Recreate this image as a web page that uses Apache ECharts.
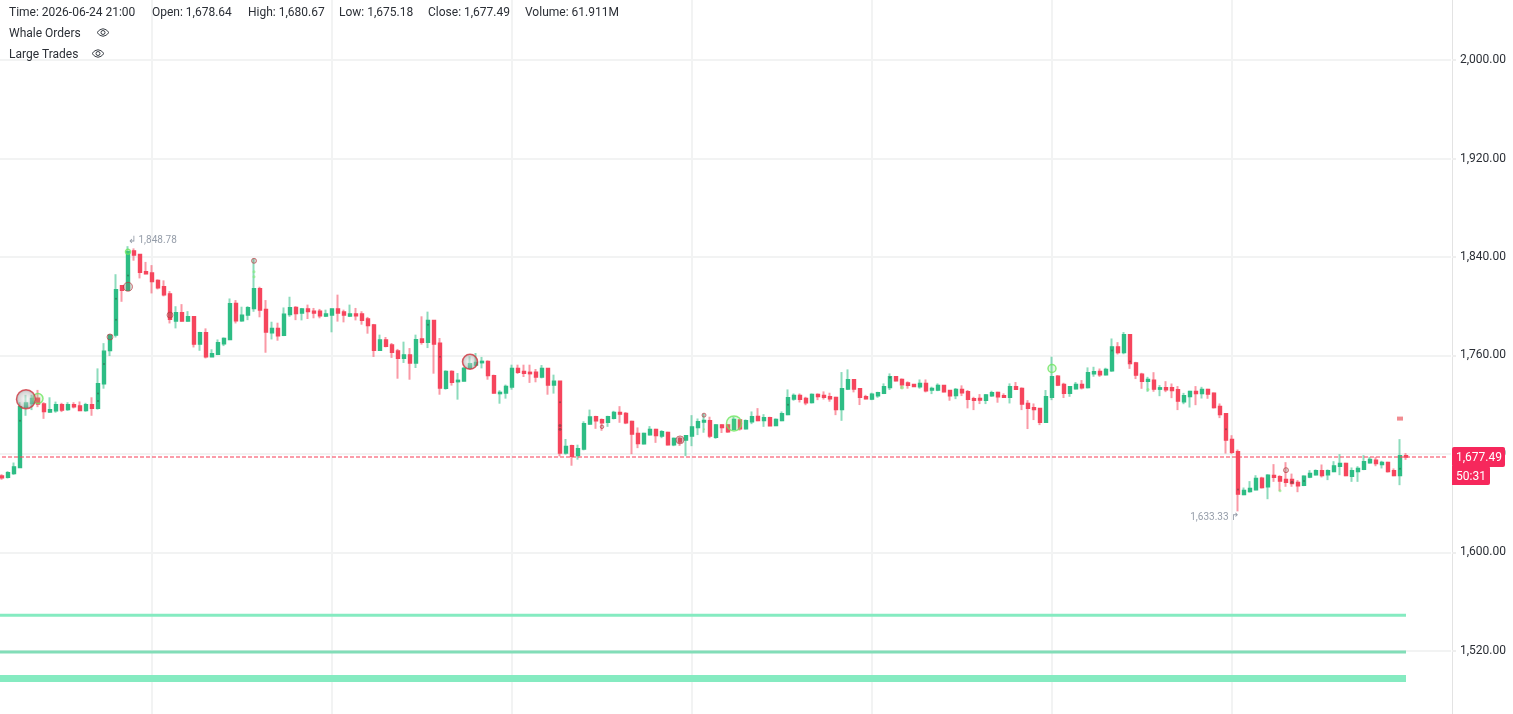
<!DOCTYPE html>
<html><head><meta charset="utf-8">
<style>html,body{margin:0;padding:0;background:#fff;overflow:hidden}#c{width:1513px;height:714px}</style>
<script src="https://cdn.jsdelivr.net/npm/echarts@6/dist/echarts.min.js"></script>
</head><body><div id="c"></div>
<script>
const opens=[1662,1660.9,1664,1669,1717.8,1721,1725.3,1720.5,1714,1715,
1720,1716,1720,1719,1715.3,1720,1717,1737,1764,1776.5,
1816.6,1813,1845,1842,1828,1827,1821,1815.8,1810,1788,
1794.7,1788,1791.4,1769.2,1778.4,1759,1761,1769.5,1773,1802.3,
1788.2,1792.8,1798.2,1814.2,1797.4,1778.4,1782,1776.3,1793.3,1799,
1794.5,1797.8,1796,1795.9,1792,1792.9,1797.8,1795.3,1792,1793.7,
1793.7,1789.6,1784.8,1764.2,1772.6,1768.5,1763.6,1757.7,1760.4,1753.9,
1773.4,1770.7,1788.5,1769.9,1733.3,1747.1,1738.7,1739.2,1749.5,1752.2,
1754.1,1755.2,1743.6,1729,1729.5,1734.4,1749.5,1747.1,1746.3,1746.3,
1742.5,1749.5,1736,1739,1680.7,1686.7,1678.6,1684,1704.3,1710.2,
1707.7,1705.6,1709,1713.7,1712.9,1706.4,1696.6,1688.2,1695.5,1699.9,
1694.5,1697.4,1687.4,1692.6,1691.2,1694.5,1701.5,1705.8,1706.9,1693.5,
1703.6,1703.6,1699.9,1707.5,1700.4,1706.1,1710.4,1707.2,1709.4,1703.1,
1707.2,1712,1724.5,1727.5,1725,1721.8,1728.3,1727.5,1726.4,1725.9,
1716.1,1732.7,1740.3,1733,1726.4,1724.5,1727.3,1729.2,1734,1742.7,
1740.5,1737.6,1736.5,1734.6,1737.3,1731.9,1731.9,1735.7,1731.6,1727.5,
1732.4,1730.5,1724.8,1725.1,1723.5,1727.3,1730,1727.3,1725.9,1734.6,
1733.2,1721,1717.5,1717,1705.6,1725.9,1743.2,1736.5,1729.2,1733,
1736.5,1734,1745.1,1747,1744.3,1747.6,1767,1762.4,1776.8,1754,
1744.8,1738.9,1739.9,1732.6,1733.7,1733.7,1732.1,1722.3,1726.7,1730.7,
1729.1,1732.4,1729.4,1718.5,1712.6,1691.7,1681.7,1647,1649.4,1650.8,
1660.3,1653.3,1662.5,1661.4,1659.2,1659.2,1656.8,1654.4,1661.1,1663,
1666.3,1663,1665.7,1670,1672.2,1661.9,1665.7,1667.4,1672.8,1674.9,
1671.4,1673,1666.3,1662.5,1678.64];
const closes=[1660.5,1664.7,1669.5,1718.3,1721.5,1725,1720.5,1714.5,1716,1720,
1715.6,1720,1718.3,1715.3,1720,1717,1737,1763.5,1776.5,1813.4,
1813,1844.3,1841.6,1827.5,1826.4,1820,1815,1809.3,1789.3,1794.7,
1788,1791.4,1769.2,1778.4,1759,1761.4,1770.3,1773.8,1802,1788.2,
1792.8,1798.8,1814.2,1796.9,1779,1782,1776,1793.6,1798.8,1794,
1797.8,1795.6,1794.5,1792.3,1793.7,1797.8,1794.5,1792.9,1793.7,1792.3,
1788.5,1784.2,1764.2,1772.6,1767.4,1762.5,1757.7,1760.4,1753.9,1772.8,
1770.7,1788.5,1769.3,1733.6,1747.1,1738.2,1739.8,1749.5,1753.3,1754.4,
1755.2,1743.6,1729.5,1730,1734.9,1749.5,1746.3,1745.5,1745.2,1742.5,
1749.5,1736,1739,1680.7,1686.1,1678,1684.3,1704.6,1710,1706.9,
1705.3,1710.2,1713.7,1712.3,1705.3,1696.1,1688.5,1696.6,1699.9,1695,
1698,1687.4,1692.6,1689.6,1694.7,1702,1706.1,1707.2,1694.5,1703.6,
1701.5,1698,1708,1700.4,1706.9,1710.2,1707.2,1709.4,1702.9,1708,
1712.6,1725.6,1727.5,1724.3,1721.5,1728.3,1726.7,1725.9,1724.8,1716.1,
1732.9,1740.3,1732.7,1725.9,1724.8,1728.6,1729.7,1734.6,1742.7,1739.4,
1736.2,1735.7,1734.8,1737.3,1731.3,1733.2,1735.7,1730.5,1727.3,1732.4,
1729.7,1724.3,1723.5,1723.7,1728,1729.7,1726.4,1725.9,1734.6,1732.4,
1720.5,1717,1716.1,1705.6,1726.4,1742.7,1735.9,1729.2,1734.6,1736.5,
1733.8,1746,1746.8,1744.3,1748.7,1767,1762.4,1776.8,1753.5,1744,
1738.9,1740.5,1732.6,1733.7,1732.1,1731.5,1722.9,1727.2,1730.7,1729.1,
1732.4,1728.6,1717.7,1712,1691.2,1681.4,1647.3,1650.3,1651.9,1660,
1652.7,1662.7,1660.9,1657.9,1657,1656,1654.1,1661.9,1664.1,1666.3,
1662.5,1666.3,1670.3,1672.2,1662.5,1666.3,1668.2,1673.6,1675.5,1672.2,
1673,1665.7,1662.5,1678.5,1677.49];
const highs=[1663.5,1666,1673,1722,1728,1728,1732,1722,1726,1722.5,
1721.5,1722,1722,1722.6,1721.5,1726,1749.5,1770,1777.5,1826,
1817,1848.78,1847,1842,1836,1833.4,1821.8,1821,1812.3,1800,
1801.7,1796,1792,1779.2,1782,1765,1773,1774.6,1806.3,1805,
1799.6,1800,1838.8,1815.8,1805,1787.4,1786.6,1799,1807.7,1800,
1798.6,1801.3,1798.6,1797.8,1797.2,1798,1809.4,1797.2,1801.3,1798.6,
1795.9,1791.3,1785.6,1776.9,1775,1770.1,1765.3,1771.2,1766,1776.9,
1791.8,1795.6,1788.5,1774.2,1747.9,1747.9,1745.7,1750.6,1759.3,1762,
1758.8,1756,1744.4,1731.7,1736.3,1752.5,1752.5,1752.5,1752.5,1749,
1752.2,1749.8,1744.4,1739,1692.1,1687.5,1687.5,1706.5,1716,1711,
1708.8,1711,1715,1718.8,1714,1707,1701.5,1697.2,1702.6,1700.4,
1699.3,1698,1693.3,1694,1695.3,1711.5,1708.8,1712.9,1710.2,1704.2,
1704,1704.2,1710.2,1708,1708,1714.5,1717.2,1712.3,1710.2,1708.8,
1714.5,1732.4,1729.1,1729.1,1726.4,1729.1,1729.1,1730.8,1729.7,1726.4,
1746.5,1748.7,1740.5,1733,1728,1729.7,1730.5,1737.3,1745.4,1743.2,
1741.3,1738.9,1736.7,1740.5,1740.5,1734.6,1737.3,1736,1731.9,1733.5,
1735.7,1731.9,1726.4,1728.6,1728.6,1731.3,1730.5,1729.2,1737.3,1738.4,
1734,1723.7,1721,1717.2,1731.9,1759,1744,1737.8,1735.1,1738.4,
1740,1750.3,1750.8,1749.4,1750,1773.8,1770.8,1779,1777.3,1754.8,
1745.9,1742.6,1746.4,1735.9,1739.1,1737.2,1735.1,1729.6,1731.3,1735.1,
1734.5,1732.9,1729.9,1721,1712.9,1695.2,1683.6,1652.7,1657.9,1662.7,
1661.4,1663.5,1671.7,1662.7,1673.3,1664,1658.7,1662.5,1666.8,1667.4,
1671.4,1667.4,1674.1,1679.8,1672.8,1669,1670,1679,1677.6,1677.6,
1674.4,1673.6,1668.2,1692,1680.67];
const lows=[1659,1660,1663,1669,1711,1715.6,1718,1708.5,1713.5,1713.5,
1714,1715,1717,1714.8,1714.3,1711,1716,1733,1759.5,1774.6,
1803.6,1812.6,1837,1822.6,1826,1810.4,1813.7,1808,1786,1782,
1787.4,1787.4,1766.5,1763.8,1757.6,1758.7,1760.3,1767.6,1772.5,1786,
1787.4,1788.7,1795.5,1791,1762.2,1773,1772,1775.7,1791.4,1788.7,
1788.5,1789.6,1790.2,1790.2,1791.2,1778.8,1787.5,1786.9,1791.2,1788.5,
1785,1777.7,1758.8,1763.9,1766.6,1758,1741.1,1753.9,1740.3,1749.8,
1768.8,1766,1745.2,1728.1,1732.2,1735.5,1724.1,1739,1749,1751,
1749.5,1740.3,1729,1720.8,1724.9,1732.2,1745,1742.5,1737.7,1738.2,
1741.4,1728.1,1729,1678,1679.4,1670.4,1675.3,1682.9,1703.7,1700.4,
1698.8,1702,1708,1705.3,1704.2,1679.8,1684.7,1687.7,1695,1689,
1692.8,1686.9,1686.3,1686.5,1678.2,1686.3,1695.3,1697.2,1692.8,1692.3,
1697,1697.2,1699.3,1699,1699.9,1704.2,1706.6,1702,1702.6,1702.6,
1706.6,1711.5,1723.2,1721.8,1719.6,1721,1723.7,1724.2,1722.4,1711.5,
1706.9,1731.9,1730,1719.7,1724.3,1723.7,1725.6,1728.6,1731.9,1738.9,
1733,1733,1734.6,1733,1730,1728.6,1731,1730,1723.2,1724.5,
1727,1717,1715.6,1720.5,1720.5,1726.4,1721.6,1725.4,1721,1731.9,
1715.6,1700.2,1707.5,1703.4,1705.3,1723.7,1735.1,1725.4,1726.4,1732.4,
1732.4,1733.2,1742.7,1742.6,1743.8,1746.7,1760.8,1761,1749.1,1740.8,
1732.9,1730.5,1730.5,1726.9,1730.2,1725.3,1715.6,1720.4,1717.7,1719.6,
1725,1724.8,1716.9,1709.1,1680.3,1679.8,1633.33,1646.5,1648.6,1650.5,
1651.9,1643.2,1657.3,1650,1653.3,1653.3,1648.9,1653.8,1660.3,1662.5,
1660.9,1658.7,1665.2,1662.7,1661.9,1657.3,1657.3,1666.8,1672.2,1670,
1668.2,1664.9,1661.9,1654.6,1675.18];

const grayBubbles=[[4,1724.5,19],[78,1754.9,15]];
const greenRings=[[6,1725,10],[122,1704.8,15],[175,1749.4,8],[21,1844.2,5]];
const redRings=[[21,1815.8,9],[18,1775,6],[28,1792.8,6],[42,1836.9,5],[113,1691.4,8],[117,1711.5,4],[100,1702,3.5],[214,1666.8,5]];
const greenDots=[[42,1828,3],[42,1824,3],[150,1734,4],[191,1732.3,3],[213,1650,3],[117,1700,2]];
const darkDots=[[3,1707,2],[16,1729,2],[16,1723,2],[17,1753,2],[19,1806,2],[19,1789,2],[21,1825,2],[71,1785,2],[73,1759,2],[93,1722,2],[93,1703,3],[93,1700,3],[131,1720,2],[148,1742,2],[185,1764,2],[188,1755,2],[204,1700,2],[206,1651,2],[215,1657,3],[217,1658,2],[233,1668,2]];
const sellTags=[[233,1708.7]];
const wallLevels=[1549,1519,1497.6];
const wallWidths=[3,3,7];
const wallColors=['#85EBC1','#82DDB8','#85EBC1'];
const lastPrice=1677.49, countdown='50:31';
const tickStep=80, axisMin=1440, axisMax=2080;
const highMark=[21,1848.78], lowMark=[206,1633.33];
const markCount=opens.length;
const categories=Array.from({length:243},(_,i)=>String(i));
const header=[['Time: 2026-06-24 21:00',9],['Open: 1,678.64',152],['High: 1,680.67',248],['Low: 1,675.18',339],['Close: 1,677.49',428],['Volume: 61.911M',525]];

const UP='#2EBD85',DOWN='#F6465D',FONT='Roboto, "Noto Sans", sans-serif';
const fmt=v=>v.toLocaleString('en-US',{minimumFractionDigits:2,maximumFractionDigits:2});
const chart=echarts.init(document.getElementById('c'),null,{renderer:'canvas'});
const at=a=>a.map(p=>[p[0]+1,p[1],p[2]]);
const markerSeries=(data,style,z)=>({type:'scatter',data:at(data),symbolSize:v=>v[2],itemStyle:style,z:z||6,silent:true,clip:true});
const gray=new echarts.graphic.RadialGradient(0.5,0.5,0.5,[{offset:0,color:'rgba(245,245,245,.55)'},{offset:.7,color:'rgba(170,170,170,.6)'},{offset:1,color:'rgba(110,110,110,.7)'}]);
chart.setOption({
 animation:false,
 backgroundColor:'#fff',
 grid:{left:-7,width:1458,top:-38.4,height:787.7,containLabel:false,outerBoundsMode:'none'},
 xAxis:{type:'category',data:categories,boundaryGap:true,
   axisLine:{show:false},axisTick:{show:false},axisLabel:{show:false},
   splitLine:{show:true,alignWithLabel:true,interval:i=>i%30===26&&i<markCount,lineStyle:{color:'#F2F3F3',width:2}}},
 yAxis:{type:'value',position:'right',offset:1,min:axisMin,max:axisMax,interval:tickStep,scale:true,
   axisLine:{show:true,lineStyle:{color:'#E3E3E3',width:1}},
   axisTick:{show:true,length:4,lineStyle:{color:'#EEEEEE',width:2}},
   axisLabel:{margin:8,padding:[3,0,0,0],color:'#2B2F36',fontFamily:FONT,fontSize:12,formatter:fmt},
   splitLine:{show:true,lineStyle:{color:'#F2F3F3',width:2}}},
 series:[
  {type:'candlestick',barWidth:1,z:3,silent:true,encode:{x:0,y:[1,2,3,4]},
   itemStyle:{color:'transparent',color0:'transparent',borderColor:'rgba(46,189,133,.55)',borderColor0:'rgba(246,70,93,.55)',borderWidth:2},
   data:opens.map((o,i)=>[i+1,o,closes[i],lows[i],highs[i]])},
  {type:'candlestick',barWidth:4,z:4,silent:true,encode:{x:0,y:[1,2,3,4]},
   itemStyle:{color:UP,color0:DOWN,borderColor:UP,borderColor0:DOWN,borderWidth:1.4},
   data:opens.map((o,i)=>[i+1,o,closes[i],Math.min(o,closes[i]),Math.max(o,closes[i])])},
  ...wallLevels.map((v,i)=>({type:'line',data:[[0,v],[markCount,v]],showSymbol:false,silent:true,z:2,
    lineStyle:{color:wallColors[i],width:wallWidths[i]}})),
  {type:'line',data:[[0,lastPrice],[242,lastPrice]],showSymbol:false,silent:true,z:5,
    lineStyle:{color:'rgba(246,70,93,.7)',width:1.5,type:[4,2]}},
  markerSeries(darkDots,{color:'rgba(50,60,50,.55)'},6),
  markerSeries(greenDots,{color:'rgba(130,235,120,.8)'},6),
  markerSeries(redRings,{color:'rgba(120,110,100,.35)',borderColor:'rgba(190,50,60,.8)',borderWidth:1},7),
  markerSeries(greenRings,{color:'rgba(120,230,120,.25)',borderColor:'#6EE65F',borderWidth:1.5},7),
  markerSeries(grayBubbles,{color:gray,borderColor:'#D2353F',borderWidth:1.5},7),
  {type:'scatter',symbol:'rect',symbolSize:[6,4],silent:true,z:7,data:sellTags.map(p=>[p[0]+1,p[1]]),itemStyle:{color:'#EE6F76'}},
  {type:'scatter',symbolSize:1,silent:true,z:8,itemStyle:{color:'transparent'},data:[[highMark[0]+1,highMark[1]]],
   label:{show:true,position:'right',offset:[-5.5,-6],formatter:'↲ '+fmt(highMark[1]),color:'#7A8494',fontFamily:FONT,fontSize:10}},
  {type:'scatter',symbolSize:1,silent:true,z:8,itemStyle:{color:'transparent'},data:[[lowMark[0]+1,lowMark[1]]],
   label:{show:true,position:'left',offset:[6.5,6],formatter:fmt(lowMark[1])+' ↱',color:'#7A8494',fontFamily:FONT,fontSize:10}}
 ]
});
const ty=chart.convertToPixel({yAxisIndex:0},lastPrice);
const txt=(t,x,y,extra)=>({type:'text',x,y,z:20,style:Object.assign({text:t,fill:'#2B2F36',font:'12px '+FONT,verticalAlign:'middle'},extra||{})});
const eye=(x,y)=>({type:'group',x,y,z:20,children:[
  {type:'bezierCurve',shape:{x1:0,y1:4.5,x2:12,y2:4.5,cpx1:6,cpy1:-3},style:{fill:'none',stroke:'#3A3F47',lineWidth:1}},
  {type:'bezierCurve',shape:{x1:0,y1:4.5,x2:12,y2:4.5,cpx1:6,cpy1:12},style:{fill:'none',stroke:'#3A3F47',lineWidth:1}},
  {type:'circle',shape:{cx:6,cy:4.5,r:2},style:{fill:'none',stroke:'#3A3F47',lineWidth:1}}]});
chart.setOption({graphic:[
  ...header.map(h=>txt(h[0],h[1],13)),
  txt('Whale Orders',9,34),eye(97,28),
  txt('Large Trades',9,55),eye(92,49),
  {type:'rect',z:20,shape:{x:1452,y:ty-10,width:53,height:20,r:2},style:{fill:'#F6285C'}},
  {type:'rect',z:20,shape:{x:1452,y:ty+9,width:38,height:19,r:[0,2,2,0]},style:{fill:'#F6285C'}},
  txt(fmt(lastPrice),1456,ty+1,{fill:'#fff'}),
  txt(countdown,1456,ty+20,{fill:'#fff'})
]});
</script></body></html>
